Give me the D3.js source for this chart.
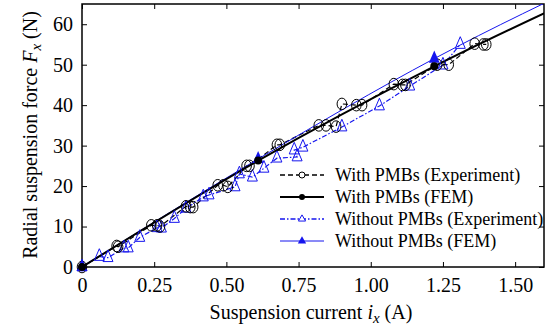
<!DOCTYPE html>
<html>
<head>
<meta charset="utf-8">
<script src="https://cdn.jsdelivr.net/npm/d3@7"></script>
<style>
  body { margin: 0; background: #fff; }
</style>
</head>
<body>
<svg id="chart" width="548" height="329"></svg>
<script>
// experiment, with PMBs (current A, force N)
const expWithI = [0, 0.12, 0.125, 0.24, 0.26, 0.27, 0.36, 0.375, 0.385, 0.47, 0.49, 0.505,
  0.57, 0.58, 0.675, 0.685, 0.82, 0.845, 0.88, 0.90, 0.95, 0.97, 1.08, 1.11, 1.12,
  1.23, 1.27, 1.36, 1.39, 1.40];
const expWithF = [0, 5.2, 5, 10.3, 10.3, 10, 15, 14.8, 14.8, 20.2, 20.2, 19.8,
  25, 25, 30.2, 30.2, 35, 35, 34.7, 40.3, 40, 40, 45.2, 45, 45,
  50, 50, 55.2, 55, 55];

// experiment, without PMBs
const expWithoutI = [0, 0.06, 0.09, 0.145, 0.16, 0.2, 0.26, 0.275, 0.32, 0.36, 0.42, 0.44,
  0.53, 0.545, 0.59, 0.63, 0.675, 0.745, 0.735, 0.765, 0.90, 1.03, 1.135, 1.25, 1.31];
const expWithoutF = [0, 2.6, 2.3, 4.7, 4.7, 7.3, 9.7, 9.6, 12, 14.5, 17.3, 17.8,
  19.8, 23, 22.2, 24.4, 26.9, 27.2, 28.9, 29.6, 34.6, 39.8, 44.7, 49.9, 55];

// FEM results
const femI = [0, 0.61, 1.22, 1.83];
const femWithF = [0, 26.3, 49.6, 70.3];
const femWithoutF = [0, 26.7, 51.5, 73];

const xTicks = [0, 0.25, 0.5, 0.75, 1.0, 1.25, 1.5];
const xTickLabels = ['0', '0.25', '0.50', '0.75', '1.00', '1.25', '1.50'];
const yTicks = [0, 10, 20, 30, 40, 50, 60];

const legendLabels = ['With PMBs (Experiment)', 'With PMBs (FEM)',
  'Without PMBs (Experiment)', 'Without PMBs (FEM)'];

const margin = {left: 82, top: 4, right: 4, bottom: 62};
const W = 548, H = 329;
const iw = W - margin.left - margin.right,
      ih = H - margin.top - margin.bottom;
const serif = 'Liberation Serif';

const svg = d3.select('#chart').attr('font-family', serif);
const g = svg.append('g').attr('transform', `translate(${margin.left},${margin.top})`);

const x = d3.scaleLinear().domain([0, 1.6]).range([0, iw]);
const y = d3.scaleLinear().domain([0, 65]).range([ih, 0]);

svg.append('defs').append('clipPath').attr('id', 'clip')
  .append('rect').attr('width', iw).attr('height', ih);

// axes, ticks inside
const tickLen = 5;
const xAxis = g.append('g').attr('transform', `translate(0,${ih})`)
  .call(d3.axisBottom(x).tickValues(xTicks).tickSize(-tickLen).tickPadding(11)
    .tickFormat((d, i) => xTickLabels[i]));
const xTop = g.append('g')
  .call(d3.axisTop(x).tickValues(xTicks).tickSize(-tickLen).tickFormat(''));
const yAxis = g.append('g')
  .call(d3.axisLeft(y).tickValues(yTicks).tickSize(-tickLen).tickPadding(9));
const yRight = g.append('g').attr('transform', `translate(${iw},0)`)
  .call(d3.axisRight(y).tickValues(yTicks).tickSize(-tickLen).tickFormat(''));

[xAxis, xTop, yAxis, yRight].forEach(a => {
  a.attr('font-family', serif).attr('font-size', 20);
  a.select('.domain').remove();
  a.selectAll('line').attr('stroke', '#000').attr('stroke-width', 1);
  a.selectAll('text').attr('font-family', serif).attr('fill', '#000');
});

// frame
g.append('rect').attr('width', iw).attr('height', ih)
  .attr('fill', 'none').attr('stroke', '#000').attr('stroke-width', 1.5);

const line = (xs, ys, curve) => d3.line()
  .x((d, i) => x(xs[i])).y((d, i) => y(ys[i]))
  .curve(curve || d3.curveLinear)(xs);

const blue = '#1515ee';
const lines = g.append('g').attr('clip-path', 'url(#clip)');

lines.append('path').attr('d', line(expWithoutI, expWithoutF))
  .attr('fill', 'none').attr('stroke', blue).attr('stroke-width', 1.2)
  .attr('stroke-dasharray', '5,2,1.5,2');
lines.append('path').attr('d', line(expWithI, expWithF))
  .attr('fill', 'none').attr('stroke', '#000').attr('stroke-width', 1.2)
  .attr('stroke-dasharray', '5,3');
lines.append('path').attr('d', line(femI, femWithoutF, d3.curveMonotoneX))
  .attr('fill', 'none').attr('stroke', blue).attr('stroke-width', 1);
lines.append('path').attr('d', line(femI, femWithF, d3.curveMonotoneX))
  .attr('fill', 'none').attr('stroke', '#000').attr('stroke-width', 2);

const tri = (size) => d3.symbol().type(d3.symbolTriangle).size(size)();

// open markers
g.selectAll('.tri').data(expWithoutI).enter().append('path')
  .attr('d', tri(43))
  .attr('transform', (d, i) => `translate(${x(d)},${y(expWithoutF[i])}) scale(1,1.35)`)
  .attr('fill', 'none').attr('stroke', blue).attr('stroke-width', 1)
  .attr('vector-effect', 'non-scaling-stroke');
g.selectAll('.circ').data(expWithI).enter().append('ellipse')
  .attr('cx', d => x(d)).attr('cy', (d, i) => y(expWithF[i]))
  .attr('rx', 4.8).attr('ry', 5.8)
  .attr('fill', 'none').attr('stroke', '#000').attr('stroke-width', 1);

// FEM markers
g.selectAll('.ftri').data(femI).enter().append('path')
  .attr('d', tri(50))
  .attr('transform', (d, i) => `translate(${x(d)},${y(femWithoutF[i])}) scale(1,1.3)`)
  .attr('fill', blue);
g.selectAll('.fcirc').data(femI).enter().append('circle')
  .attr('cx', d => x(d)).attr('cy', (d, i) => y(femWithF[i]))
  .attr('r', 4).attr('fill', '#000');

// legend
const lg = svg.append('g').attr('transform', 'translate(280,175)');
const rowH = 22;
const styles = [
  {stroke: '#000', dash: '5,3', w: 1.5},
  {stroke: '#000', dash: null, w: 2},
  {stroke: blue, dash: '5,2,1.5,2', w: 1.5},
  {stroke: blue, dash: null, w: 1}
];
legendLabels.forEach((lab, k) => {
  const row = lg.append('g').attr('transform', `translate(0,${k * rowH})`);
  row.append('line').attr('x1', 0).attr('x2', 44).attr('y1', 0).attr('y2', 0)
    .attr('stroke', styles[k].stroke).attr('stroke-width', styles[k].w)
    .attr('stroke-dasharray', styles[k].dash);
  if (k === 0) row.append('circle').attr('cx', 22).attr('r', 3)
    .attr('fill', '#fff').attr('stroke', '#000');
  if (k === 1) row.append('circle').attr('cx', 22).attr('r', 3).attr('fill', '#000');
  if (k === 2) row.append('path').attr('d', tri(22))
    .attr('transform', 'translate(22,0)').attr('fill', '#fff').attr('stroke', blue);
  if (k === 3) row.append('path').attr('d', tri(30))
    .attr('transform', 'translate(22,0)').attr('fill', blue);
  row.append('text').attr('x', 55).attr('y', 6)
    .attr('font-family', serif).attr('font-size', 18).text(lab);
});

// axis titles
const xt = svg.append('text').attr('x', margin.left + iw / 2 - 2).attr('y', 319)
  .attr('text-anchor', 'middle').attr('font-family', serif).attr('font-size', 20);
xt.append('tspan').text('Suspension current ');
xt.append('tspan').attr('font-style', 'italic').text('i');
xt.append('tspan').attr('font-style', 'italic').attr('dy', 4).attr('font-size', 15).text('x');
xt.append('tspan').attr('dy', -4).text(' (A)');

const yt = svg.append('text')
  .attr('transform', `translate(37,135) rotate(-90)`)
  .attr('text-anchor', 'middle').attr('font-family', serif).attr('font-size', 20);
yt.append('tspan').text('Radial suspension force ');
yt.append('tspan').attr('font-style', 'italic').text('F');
yt.append('tspan').attr('font-style', 'italic').attr('dy', 4).attr('font-size', 15).text('x');
yt.append('tspan').attr('dy', -4).text(' (N)');
</script>
</body>
</html>
